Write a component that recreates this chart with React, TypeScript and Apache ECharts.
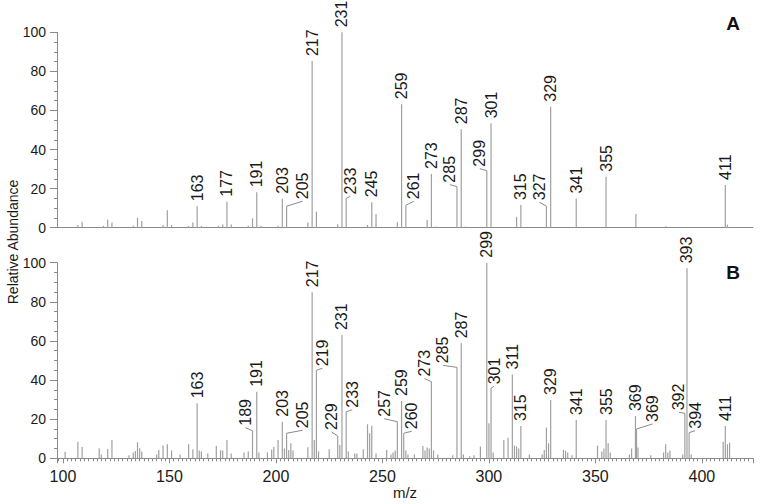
import { useEffect, useRef } from "react";
import * as echarts from "echarts";

// ---- Spectrum A ----
const mzA = [107, 109, 119, 121, 123, 133, 135, 137, 147, 149, 151, 159, 161, 163, 165, 173, 175, 177, 179, 187, 189, 191, 193, 201, 203, 205, 215, 217, 219, 229, 231, 233, 243, 245, 247, 257, 259, 261, 271, 273, 275, 285, 287, 289, 299, 301, 313, 315, 327, 329, 341, 355, 369, 383, 411, 412];
const intA = [1.4, 3.1, 1, 4.1, 2.7, 1, 5.1, 3.4, 1.4, 8.9, 1.4, 0.9, 2.6, 11, 0.9, 1, 1.7, 13.3, 1.7, 1, 4.8, 18.1, 1, 1, 14.8, 11, 2.6, 85.3, 8.2, 1.8, 100, 15, 1.4, 13, 7, 2.8, 63.2, 11.5, 4, 27.5, 0.6, 21, 50.4, 0.6, 29.2, 53.4, 5.6, 11.6, 11, 61.9, 15, 26.1, 7, 0.8, 21.9, 1.5];
const labelsA = [163, 177, 191, 203, 205, 217, 231, 233, 245, 259, 261, 273, 285, 287, 299, 301, 315, 327, 329, 341, 355, 411];

// ---- Spectrum B ----
const mzB = [101, 107, 109, 117, 118, 121, 123, 131, 133, 134, 135, 136, 137, 144, 145, 147, 149, 151, 155, 159, 161, 163, 164, 165, 168, 172, 174, 175, 177, 179, 185, 187, 189, 191, 192, 196, 198, 199, 201, 203, 204, 205, 206, 207, 208, 215, 217, 218, 219, 220, 225, 229, 230, 231, 233, 234, 237, 238, 241, 243, 244, 245, 247, 252, 254, 255, 256, 257, 259, 260, 261, 262, 265, 269, 270, 271, 272, 273, 274, 276, 283, 285, 287, 288, 291, 293, 296, 299, 300, 301, 302, 307, 309, 311, 312, 313, 314, 315, 319, 325, 326, 327, 328, 329, 335, 336, 337, 339, 341, 351, 353, 354, 355, 356, 357, 366, 367, 368.8, 369.3, 370, 376, 382, 383, 384, 385, 391, 392, 393, 394, 395, 410, 411, 412, 413];
const intB = [3.4, 8.5, 5.8, 5.1, 2, 4.8, 9.4, 1.5, 3, 3.7, 8.2, 5.1, 3.5, 2, 4.3, 6.5, 7.2, 4.1, 2, 7.2, 4.6, 28.1, 4, 3.5, 2.5, 6.3, 4.1, 4, 9.4, 2.5, 3, 3.5, 14.1, 34, 3, 3, 4.5, 5.8, 9.4, 18.7, 5, 12.8, 4.3, 7.7, 4, 5.6, 84.9, 9.4, 45, 3.5, 4.6, 11.4, 6.8, 63, 23.8, 3.5, 2.5, 2.5, 4.6, 17.4, 12.8, 16.7, 2.5, 4.3, 2, 3, 4, 18.7, 29.3, 12.8, 4, 2, 2, 6.3, 4, 5.5, 5, 39.2, 4, 2, 1.5, 46.5, 58.8, 2, 1, 1.5, 6, 100, 17.9, 35.8, 3, 9.4, 10.5, 42.9, 6.5, 6, 5, 16.5, 2, 2, 4.3, 15.7, 7.7, 29.8, 4.3, 3.9, 3, 1.5, 19.6, 6.5, 3.5, 5, 19.6, 7.7, 3, 2, 5, 21.6, 15, 5.5, 1.5, 3, 7.2, 3, 4, 2, 23, 97.1, 13.1, 2, 8.5, 16.5, 7.2, 8];
const labelsB = [163, 189, 191, 203, 205, 217, 219, 229, 231, 233, 257, 259, 260, 273, 285, 287, 299, 301, 311, 315, 329, 341, 355, 368.8, 369.3, 392, 393, 394, 411];

// label displacement (pixels) for labels drawn with a leader line
const LEADERS_A: Record<string, [number, number]> = {
  "205": [16, -5], "233": [4, -2], "261": [8, -4], "285": [-7, -2], "299": [-7, -2], "327": [-7, -4],
};
const LEADERS_B: Record<string, [number, number]> = {
  "189": [-7, -3], "205": [16, -3], "219": [6, -2], "229": [-6, -4], "233": [6, -2], "257": [-13, -3],
  "260": [8, -2], "273": [-7, -3], "285": [-14, -2], "301": [3, -2], "369.3": [16, -5], "392": [-6, -1], "394": [6, -2],
};

const X_MIN = 97.2;
const X_MAX = 424;
const PEAK_COLOR = "#a0a0a0";
const AXIS_COLOR = "#8a8a8a";
const TEXT_COLOR = "#1a1a1a";
const LABEL_FONT = '16px "Liberation Sans Narrow", "Arial Narrow", sans-serif';

const peakRender = (_params: any, api: any) => {
  const m = api.value(0);
  const v = api.value(1);
  const p0 = api.coord([m, 0]);
  const p1 = api.coord([m, v]);
  return {
    type: "line",
    shape: { x1: p0[0], y1: p0[1], x2: p1[0], y2: p1[1] },
    style: { stroke: PEAK_COLOR, lineWidth: 1.2 },
  };
};

const makeLabelRender = (leaders: Record<string, [number, number]>) => (_params: any, api: any) => {
  const m = api.value(0);
  const v = api.value(1);
  const p = api.coord([m, v]);
  const off = leaders[String(m)];
  const children: any[] = [];
  let bx = p[0];
  let by = p[1] - 5;
  if (off) {
    const ex = p[0] + off[0];
    const ey = p[1] + off[1];
    children.push({
      type: "line",
      shape: { x1: p[0], y1: p[1], x2: ex, y2: ey },
      style: { stroke: "#8a8a8a", lineWidth: 1 },
    });
    bx = ex;
    by = ey - 2;
  }
  children.push({
    type: "text",
    x: bx,
    y: by,
    rotation: Math.PI / 2,
    style: {
      text: String(Math.round(m)),
      fill: TEXT_COLOR,
      font: LABEL_FONT,
      align: "left",
      verticalAlign: "middle",
    },
  });
  return { type: "group", children };
};

const xAxisBase = {
  type: "value" as const,
  min: X_MIN,
  max: X_MAX,
  splitLine: { show: false },
  axisLine: { show: true, onZero: false, lineStyle: { color: AXIS_COLOR, width: 1 } },
};

const yAxisBase = {
  type: "value" as const,
  min: 0,
  max: 100,
  interval: 20,
  splitLine: { show: false },
  axisLine: { show: true, lineStyle: { color: AXIS_COLOR, width: 1 } },
  axisTick: { show: true, length: 7, lineStyle: { color: AXIS_COLOR } },
  minorTick: { show: true, splitNumber: 4, length: 3, lineStyle: { color: AXIS_COLOR } },
  axisLabel: { fontSize: 14, color: TEXT_COLOR, margin: 11, fontFamily: "Liberation Sans" },
};

export default function App() {
  const ref = useRef<HTMLDivElement>(null);
  useEffect(() => {
    if (!ref.current) return;
    const chart = echarts.init(ref.current, null, { renderer: "svg" });
    const dataA = mzA.map((m, i) => [m, intA[i]]);
    const dataB = mzB.map((m, i) => [m, intB[i]]);
    const labDataA = labelsA.map((m) => [m, intA[mzA.indexOf(m)]]);
    const labDataB = labelsB.map((m) => [m, intB[mzB.indexOf(m)]]);
    chart.setOption({
      animation: false,
      backgroundColor: "#ffffff",
      grid: [
        { left: 57, top: 32.3, width: 696, height: 195.4 },
        { left: 57, top: 262.7, width: 696, height: 195.6 },
      ],
      xAxis: [
        { ...xAxisBase, gridIndex: 0, axisTick: { show: false }, axisLabel: { show: false } },
        {
          ...xAxisBase,
          gridIndex: 1,
          splitNumber: 6,
          axisTick: { show: true, length: 5, lineStyle: { color: AXIS_COLOR } },
          minorTick: { show: true, splitNumber: 25, length: 3, lineStyle: { color: AXIS_COLOR } },
          axisLabel: {
            fontSize: 16,
            color: TEXT_COLOR,
            margin: 10,
            fontFamily: "Liberation Sans",
            showMinLabel: false,
            showMaxLabel: false,
          },
        },
      ],
      yAxis: [
        { ...yAxisBase, gridIndex: 0 },
        { ...yAxisBase, gridIndex: 1 },
      ],
      series: [
        { type: "custom", name: "A", xAxisIndex: 0, yAxisIndex: 0, data: dataA, renderItem: peakRender, clip: false, encode: { x: 0, y: 1 } },
        { type: "custom", name: "B", xAxisIndex: 1, yAxisIndex: 1, data: dataB, renderItem: peakRender, clip: false, encode: { x: 0, y: 1 } },
        { type: "custom", name: "labelsA", xAxisIndex: 0, yAxisIndex: 0, data: labDataA, renderItem: makeLabelRender(LEADERS_A), clip: false, z: 5, encode: { x: 0, y: 1 } },
        { type: "custom", name: "labelsB", xAxisIndex: 1, yAxisIndex: 1, data: labDataB, renderItem: makeLabelRender(LEADERS_B), clip: false, z: 5, encode: { x: 0, y: 1 } },
      ],
      graphic: [
        {
          type: "text",
          x: 13,
          y: 242,
          rotation: Math.PI / 2,
          style: { text: "Relative Abundance", fill: TEXT_COLOR, font: '14px "Liberation Sans"', align: "center", verticalAlign: "middle" },
        },
        {
          type: "text",
          x: 405,
          y: 492,
          style: { text: "m/z", fill: TEXT_COLOR, font: '15px "Liberation Sans"', align: "center", verticalAlign: "middle" },
        },
        {
          type: "text",
          x: 733,
          y: 23,
          style: { text: "A", fill: "#111", font: 'bold 19px "Liberation Sans"', align: "center", verticalAlign: "middle" },
        },
        {
          type: "text",
          x: 733,
          y: 272,
          style: { text: "B", fill: "#111", font: 'bold 19px "Liberation Sans"', align: "center", verticalAlign: "middle" },
        },
      ],
    });
    return () => chart.dispose();
  }, []);
  return <div ref={ref} style={{ position: "fixed", left: 0, top: 0, width: 761, height: 504, background: "#fff" }} />;
}
